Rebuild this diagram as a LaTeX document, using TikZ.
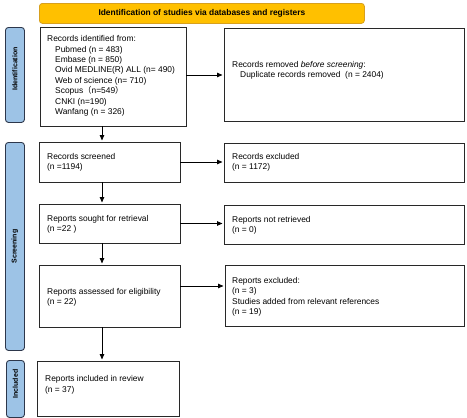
\documentclass[tikz,border=0pt]{standalone}
\usepackage{fontspec}
\setmainfont{Liberation Sans}
\newfontfamily\cjk{Noto Sans CJK SC}
\usetikzlibrary{arrows.meta,calc}
\definecolor{bannerfill}{RGB}{255,192,0}
\definecolor{bannerdraw}{RGB}{215,160,30}
\definecolor{sidefill}{RGB}{157,195,230}
\definecolor{sidedraw}{RGB}{45,55,75}
\definecolor{boxdraw}{RGB}{40,40,40}
\begin{document}
\begin{tikzpicture}[x=1pt,y=-1pt,
  box/.style={draw=boxdraw, line width=0.9pt, inner sep=0pt, outer sep=0pt, anchor=north west, fill=white},
  txt/.style={inner sep=0pt, anchor=north west, align=left, font=\fontsize{8.4}{10.4}\selectfont},
  side/.style={draw=sidedraw, fill=sidefill, line width=0.9pt, rounded corners=3pt, anchor=north west, inner sep=0pt},
  sidetxt/.style={rotate=90, inner sep=0pt, font=\fontsize{7}{8}\selectfont\bfseries},
  banner/.style={draw=bannerdraw, fill=bannerfill, line width=0.8pt, rounded corners=3pt, anchor=north west, inner sep=0pt, font=\fontsize{8.4}{10}\selectfont\bfseries},
  arr/.style={-{Triangle[length=5.5pt,width=4.5pt]}, line width=0.8pt, shorten >=1.5pt, draw=black}]
\useasboundingbox (0,0) rectangle (467,418);
% banner
\node[banner, minimum width=325, minimum height=20] (ban) at (39,3) {Identification of studies via databases and registers};
% side bars
\node[side, minimum width=19, minimum height=95] (s1) at (5,27) {};
\node[sidetxt] (s1t) at ([yshift=6pt]s1.center) {Identification};
\node[side, minimum width=19, minimum height=208] (s2) at (5,142) {};
\node[sidetxt] (s2t) at (s2.center) {Screening};
\node[side, minimum width=18, minimum height=57] (s3) at (6,360) {};
\node[sidetxt] (s3t) at ([yshift=5pt]s3.center) {Included};
% boxes
\node[box, minimum width=146, minimum height=99] (b1) at (40,27) {};
\node[box, minimum width=240, minimum height=93] (b2) at (224,28) {};
\node[box, minimum width=141, minimum height=40] (b3) at (39,142) {};
\node[box, minimum width=240, minimum height=39] (b4) at (224,143) {};
\node[box, minimum width=141, minimum height=39] (b5) at (39,204) {};
\node[box, minimum width=240, minimum height=39] (b6) at (224,205) {};
\node[box, minimum width=141, minimum height=62] (b7) at (39,265) {};
\node[box, minimum width=239, minimum height=61] (b8) at (225,265) {};
\node[box, minimum width=142, minimum height=55] (b9) at (37,361) {};
% texts
\node[txt] (t1) at (47,35.4) {Records identified from:\\
\hspace*{8pt}Pubmed (n = 483)\\
\hspace*{8pt}Embase (n = 850)\\
\hspace*{8pt}Ovid MEDLINE(R) ALL (n= 490)\\
\hspace*{8pt}Web of science (n= 710)\\
\hspace*{8pt}Scopus{\cjk（}n=549{\cjk）}\\
\hspace*{8pt}CNKI (n=190)\\
\hspace*{8pt}Wanfang (n = 326)};
\node[txt] (t2) at (232,61.2) {Records removed \textit{before screening}:\\
\hspace*{8pt}Duplicate records removed\ \ (n = 2404)};
\node[txt] (t3) at (47,153.2) {Records screened\\(n =1194)};
\node[txt] (t4) at (232,153.2) {Records excluded\\(n = 1172)};
\node[txt] (t5) at (47,215.2) {Reports sought for retrieval\\(n =22 )};
\node[txt] (t6) at (232,216.2) {Reports not retrieved\\(n = 0)};
\node[txt] (t7) at (47,288.2) {Reports assessed for eligibility\\(n = 22)};
\node[txt] (t8) at (232,277.2) {Reports excluded:\\(n = 3)\\Studies added from relevant references\\(n = 19)};
\node[txt] (t9) at (45,375.7) {Reports included in review\\(n = 37)};
% arrows
\coordinate (spine) at (102,0);
\draw[arr] (b1.south -| spine) -- (b3.north -| spine);
\draw[arr] (b3.south -| spine) -- (b5.north -| spine);
\draw[arr] (b5.south -| spine) -- (b7.north -| spine);
\draw[arr] (b7.south -| spine) -- (b9.north -| spine);
\draw[arr] ([yshift=1.5pt]b1.east) -- ([yshift=1.5pt]b1.east -| b2.west);
\draw[arr] (b3.east) -- (b3.east -| b4.west);
\draw[arr] (b5.east) -- (b5.east -| b6.west);
\draw[arr] ([yshift=10pt]b7.east) -- ([yshift=10pt]b7.east -| b8.west);
\end{tikzpicture}
\end{document}
